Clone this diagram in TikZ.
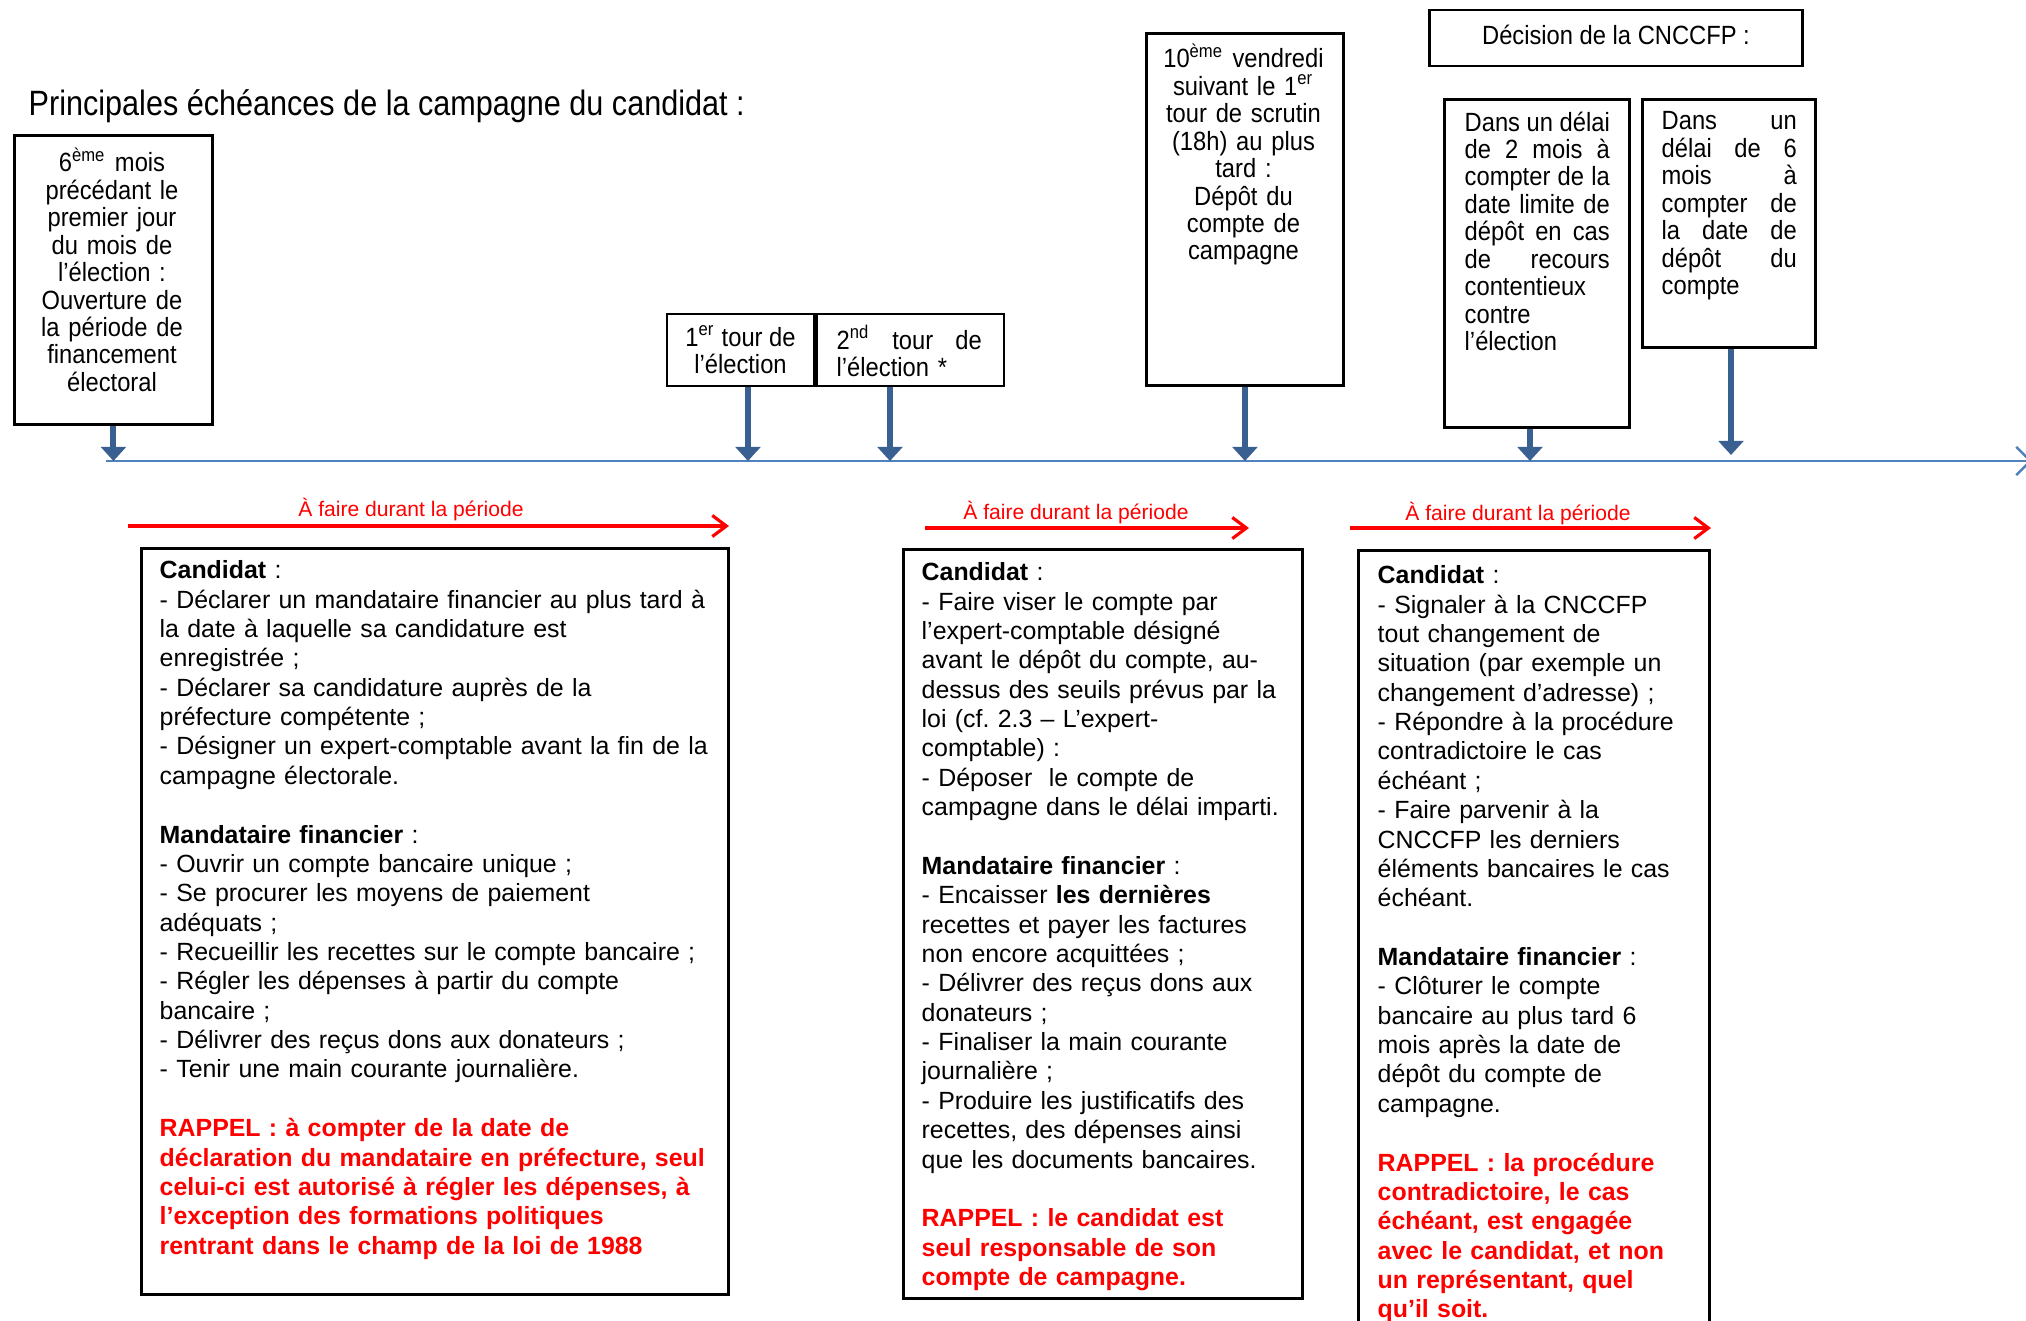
\documentclass[tikz,border=0pt]{standalone}
\usepackage{fontspec}
\setmainfont{Liberation Sans}
\newfontfamily\narrowfont[FakeStretch=0.9]{Liberation Sans}
\newfontfamily\titlefont[FakeStretch=0.87]{Liberation Sans}
\usetikzlibrary{arrows.meta}

\definecolor{tlblue}{RGB}{79,129,189}
\definecolor{tickblue}{RGB}{58,95,145}
\definecolor{rappelred}{RGB}{255,0,0}
\newcommand{\rappel}{\color{rappelred}\bfseries}
\newcommand{\jline}[1]{\makebox[\linewidth][s]{\spaceskip=0.25em plus 10em\relax #1}}

\tikzset{
  datebox/.style={draw, line width=0.8pt, inner sep=0pt},
  datetext/.style={inner sep=0pt, align=center, font=\narrowfont\fontsize{7.5}{7.8}\selectfont},
  taskbox/.style={draw, line width=0.8pt, inner sep=0pt, anchor=north west},
  tasktext/.style={inner sep=0pt, anchor=north west, align=left, font=\fontsize{7.08}{8.35}\selectfont},
  timeline/.style={tlblue, line width=0.7pt, -{Straight Barb[length=4pt,width=8pt]}},
  tick/.style={tickblue, line width=1.7pt, -{Triangle[length=4pt,width=7pt]}},
  periode/.style={rappelred, line width=0.9pt, -{Straight Barb[length=4pt,width=6pt]}},
  periodelabel/.style={rappelred, inner sep=0pt, font=\fontsize{6}{7}\selectfont}
}

\begin{document}
\begin{tikzpicture}[x=0.01cm, y=-0.01cm]
\useasboundingbox (0,0) rectangle (2026,1320);

% titre
\node[inner sep=0pt, anchor=west, font=\titlefont\fontsize{10}{12}\selectfont] (titre) at (28,106)
  {Principales échéances de la campagne du candidat :};

% echeances
\node[datebox, anchor=north west, minimum width=1.98cm, minimum height=2.89cm] (ouverture) at (13,134) {};
\node[datetext, anchor=north, text width=1.9cm] (ouverturetxt) at (112,147)
  {6\textsuperscript{ème} mois\\précédant le\\premier jour\\du mois de\\l’élection :\\Ouverture de\\la période de\\financement\\électoral};

\node[datebox, datetext, minimum width=1.47cm, minimum height=0.72cm] (premier) at (740.5,350)
  {1\textsuperscript{er} tour de\\l’élection};
\node[datebox, minimum width=1.87cm, minimum height=0.72cm, anchor=west] (second) at (premier.east) {};
\node[datetext, text width=1.45cm, align=left, anchor=west] (secondtxt) at (836,351)
  {\jline{2\textsuperscript{nd} tour de}\\l’élection *};

\node[datebox, anchor=north west, minimum width=1.97cm, minimum height=3.52cm] (depot) at (1145,32) {};
\node[datetext, anchor=north, text width=1.9cm] (depottxt) at (1243.5,43)
  {10\textsuperscript{ème} vendredi\\suivant le 1\textsuperscript{er}\\tour de scrutin\\(18h) au plus\\tard :\\Dépôt du\\compte de\\campagne};

\node[datebox, datetext, minimum width=3.72cm, minimum height=0.56cm] (decision) at (1616,38) {};
\node[datetext] (decisiontxt) at (1616,35) {Décision de la CNCCFP :};

\node[datebox, anchor=north west, minimum width=1.85cm, minimum height=3.28cm] (recours) at (1443,98) {};
\node[datetext, align=left, anchor=north west, text width=1.45cm] (recourstxt) at (1464,111)
  {\jline{Dans un délai}\\\jline{de 2 mois à}\\\jline{compter de la}\\\jline{date limite de}\\\jline{dépôt en cas}\\\jline{de recours}\\contentieux\\contre\\l’élection};

\node[datebox, anchor=north west, minimum width=1.73cm, minimum height=2.48cm] (sixmois) at (1641,98) {};
\node[datetext, align=left, anchor=north west, text width=1.35cm] (sixmoistxt) at (1661,111)
  {\jline{Dans un}\\\jline{délai de 6}\\\jline{mois à}\\\jline{compter de}\\\jline{la date de}\\\jline{dépôt du}\\compte};

% axe du temps
\coordinate (t0) at (106,461);
\coordinate (t1) at (2032,461);
\draw[timeline] (t0) -- (t1);

\draw[tick] (ouverture.south) -- (ouverture.south |- t0);
\draw[tick] (748,0 |- premier.south) -- (748,0 |- t0);
\draw[tick] (890,0 |- second.south) -- (890,0 |- t0);
\draw[tick] (depot.south) -- (depot.south |- t0);
\draw[tick] (1530,0 |- recours.south) -- (1530,0 |- t0);
\draw[tick] (1731,0 |- sixmois.south) -- (1731,455);

% periodes
\coordinate (p1a) at (128,526);
\coordinate (p1b) at (729,526);
\draw[periode] (p1a) -- (p1b);
\node[periodelabel] (p1txt) at (411,510) {À faire durant la période};

\coordinate (p2a) at (925,528);
\coordinate (p2b) at (1249,528);
\draw[periode] (p2a) -- (p2b);
\node[periodelabel] (p2txt) at (1076,513) {À faire durant la période};

\coordinate (p3a) at (1350,528);
\coordinate (p3b) at (1711,528);
\draw[periode] (p3a) -- (p3b);
\node[periodelabel] (p3txt) at (1518,514) {À faire durant la période};

% taches
\node[taskbox, minimum width=5.87cm, minimum height=7.46cm] (avant) at (140,547) {};
\node[tasktext, text width=6cm] (avanttxt) at (159,560)
  {\textbf{Candidat} :\\
   - Déclarer un mandataire financier au plus tard à\\
   la date à laquelle sa candidature est\\
   enregistrée ;\\
   - Déclarer sa candidature auprès de la\\
   préfecture compétente ;\\
   - Désigner un expert-comptable avant la fin de la\\
   campagne électorale.\\[\baselineskip]
   \textbf{Mandataire financier} :\\
   - Ouvrir un compte bancaire unique ;\\
   - Se procurer les moyens de paiement\\
   adéquats ;\\
   - Recueillir les recettes sur le compte bancaire ;\\
   - Régler les dépenses à partir du compte\\
   bancaire ;\\
   - Délivrer des reçus dons aux donateurs ;\\
   - Tenir une main courante journalière.\\[\baselineskip]
   {\rappel RAPPEL : à compter de la date de\\
   déclaration du mandataire en préfecture, seul\\
   celui-ci est autorisé à régler les dépenses, à\\
   l’exception des formations politiques\\
   rentrant dans le champ de la loi de 1988}};

\node[taskbox, minimum width=3.99cm, minimum height=7.49cm] (pendant) at (902,548) {};
\node[tasktext, text width=3.8cm] (pendanttxt) at (921,562)
  {\textbf{Candidat} :\\
   - Faire viser le compte par\\
   l’expert-comptable désigné\\
   avant le dépôt du compte, au-\\
   dessus des seuils prévus par la\\
   loi (cf.\ 2.3 – L’expert-\\
   comptable) :\\
   - Déposer~ le compte de\\
   campagne dans le délai imparti.\\[\baselineskip]
   \textbf{Mandataire financier} :\\
   - Encaisser \textbf{les dernières}\\
   recettes et payer les factures\\
   non encore acquittées ;\\
   - Délivrer des reçus dons aux\\
   donateurs ;\\
   - Finaliser la main courante\\
   journalière ;\\
   - Produire les justificatifs des\\
   recettes, des dépenses ainsi\\
   que les documents bancaires.\\[\baselineskip]
   {\rappel RAPPEL : le candidat est\\
   seul responsable de son\\
   compte de campagne.}};

\node[taskbox, minimum width=3.51cm, minimum height=8cm] (apres) at (1357,549) {};
\node[tasktext, text width=3.3cm] (aprestxt) at (1377,565)
  {\textbf{Candidat} :\\
   - Signaler à la CNCCFP\\
   tout changement de\\
   situation (par exemple un\\
   changement d’adresse) ;\\
   - Répondre à la procédure\\
   contradictoire le cas\\
   échéant ;\\
   - Faire parvenir à la\\
   CNCCFP les derniers\\
   éléments bancaires le cas\\
   échéant.\\[\baselineskip]
   \textbf{Mandataire financier} :\\
   - Clôturer le compte\\
   bancaire au plus tard 6\\
   mois après la date de\\
   dépôt du compte de\\
   campagne.\\[\baselineskip]
   {\rappel RAPPEL : la procédure\\
   contradictoire, le cas\\
   échéant, est engagée\\
   avec le candidat, et non\\
   un représentant, quel\\
   qu’il soit.}};
\end{tikzpicture}
\end{document}
